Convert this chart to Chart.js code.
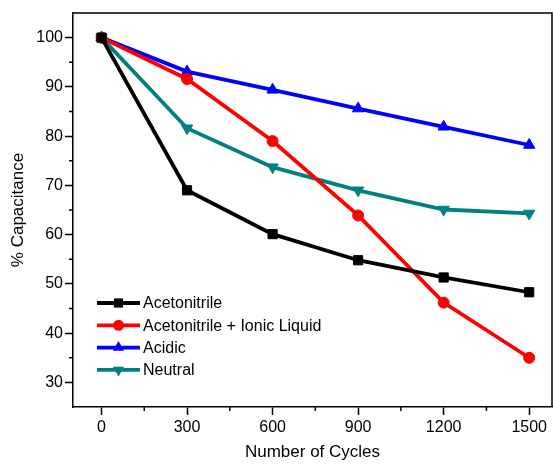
<!DOCTYPE html>
<html>
<head>
<meta charset="utf-8">
<script src="https://cdn.jsdelivr.net/npm/chart.js@4.4.0/dist/chart.umd.min.js"></script>
<style>
html, body { margin: 0; padding: 0; background: #fff; }
#wrap { width: 553px; height: 464px; }
</style>
</head>
<body>
<div id="wrap"><canvas id="c" width="553" height="464"></canvas></div>
<script>
// capacitance retention vs cycles
const cycles = [0, 300, 600, 900, 1200, 1500];
const acetonitrile = [100, 69.0, 60.1, 54.8, 51.3, 48.3];
const acetonitrileIL = [100, 91.6, 79.0, 63.9, 46.2, 35.0];
const acidic = [100, 93.1, 89.4, 85.6, 81.9, 78.2];
const neutral = [100, 81.6, 73.7, 69.0, 65.1, 64.3];
const seriesNames = ['Acetonitrile', 'Acetonitrile + Ionic Liquid', 'Acidic', 'Neutral'];

const xTicks = [0, 300, 600, 900, 1200, 1500];
const xMinor = [150, 450, 750, 1050, 1350];
const yTicks = [30, 40, 50, 60, 70, 80, 90, 100];
const yMinor = [35, 45, 55, 65, 75, 85, 95];

const FONT = "'Liberation Sans', Arial, sans-serif";

const pts = ys => cycles.map((x, i) => ({ x: x, y: ys[i] }));

const mk = (label, ys, color, style, radius, rotation) => ({
    label: label,
    data: pts(ys),
    borderColor: color,
    backgroundColor: color,
    borderWidth: 3.8,
    pointStyle: style,
    pointRadius: radius,
    pointRotation: rotation,
    pointBorderWidth: 1,
    pointBorderColor: color,
    pointBackgroundColor: color,
    tension: 0
})

function drawMarker(ctx, style, rot, x, y, r) {
    ctx.beginPath()
    if (style === 'rect') {
        const s = Math.SQRT1_2 * r
        ctx.rect(x - s, y - s, 2 * s, 2 * s)
    } else if (style === 'circle') {
        ctx.arc(x, y, r, 0, Math.PI * 2)
    } else {
        const a0 = rot ? Math.PI / 2 : -Math.PI / 2
        for (let k = 0; k < 3; k++) {
            const a = a0 + k * 2 * Math.PI / 3
            const px = x + Math.cos(a) * r
            const py = y + Math.sin(a) * r
            k ? ctx.lineTo(px, py) : ctx.moveTo(px, py)
        }
        ctx.closePath()
    }
    ctx.fill()
}

// box + minor ticks
const framePlugin = {
    id: 'frame',
    afterDraw(chart) {
        const { ctx, chartArea: a, scales } = chart
        ctx.save()
        ctx.strokeStyle = '#000'
        ctx.lineWidth = 1.5
        ctx.beginPath()
        ctx.moveTo(a.left, a.top)
        ctx.lineTo(a.right, a.top)
        ctx.lineTo(a.right, a.bottom)
        ctx.stroke()
        xMinor.forEach(v => {
            const px = scales.x.getPixelForValue(v)
            ctx.beginPath()
            ctx.moveTo(px, a.bottom)
            ctx.lineTo(px, a.bottom + 4)
            ctx.stroke()
        })
        yMinor.forEach(v => {
            const py = scales.y.getPixelForValue(v)
            ctx.beginPath()
            ctx.moveTo(a.left, py)
            ctx.lineTo(a.left - 4, py)
            ctx.stroke()
        })
        ctx.restore()
    }
}

// legend inside plot, lower left
const legendPlugin = {
    id: 'innerLegend',
    afterDatasetsDraw(chart) {
        const { ctx, chartArea: a } = chart
        const x0 = a.left + 24, x1 = a.left + 67
        let y = a.top + 290
        ctx.save()
        chart.data.datasets.forEach(ds => {
            ctx.strokeStyle = ds.borderColor
            ctx.fillStyle = ds.borderColor
            ctx.lineWidth = ds.borderWidth
            ctx.beginPath()
            ctx.moveTo(x0, y)
            ctx.lineTo(x1, y)
            ctx.stroke()
            drawMarker(ctx, ds.pointStyle, ds.pointRotation, (x0 + x1) / 2, y, ds.pointRadius)
            ctx.fillStyle = '#000'
            ctx.font = '16px ' + FONT
            ctx.textBaseline = 'middle'
            ctx.textAlign = 'left'
            ctx.fillText(ds.label, x1 + 3, y + 1)
            y += 22.3
        })
        ctx.restore()
    }
}

new Chart(document.getElementById('c'), {
    type: 'line',
    data: {
        datasets: [
            mk(seriesNames[0], acetonitrile, '#000000', 'rect', 6.5, 0),
            mk(seriesNames[1], acetonitrileIL, '#ff0000', 'circle', 5.5, 0),
            mk(seriesNames[2], acidic, '#0000ff', 'triangle', 6.5, 0),
            mk(seriesNames[3], neutral, '#008080', 'triangle', 6.5, 180)
        ]
    },
    options: {
        responsive: false,
        animation: false,
        devicePixelRatio: 1,
        layout: { autoPadding: false, padding: { left: 0, top: 13, right: 1, bottom: 0 } },
        plugins: {
            legend: { display: false },
            tooltip: { enabled: false }
        },
        scales: {
            x: {
                type: 'linear',
                min: -100,
                max: 1580,
                afterBuildTicks: s => { s.ticks = xTicks.map(v => ({ value: v })) },
                afterFit: s => { s.height = 57; s.paddingLeft = 0; s.paddingRight = 0 },
                ticks: { color: '#000', font: { family: FONT, size: 16 }, padding: 3, maxRotation: 0, callback: v => String(v) },
                grid: { drawOnChartArea: false, drawTicks: true, tickLength: 8, tickWidth: 1.5, tickColor: '#000' },
                border: { display: true, color: '#000', width: 1.5 },
                title: { display: true, text: 'Number of Cycles', color: '#000', font: { family: FONT, size: 17 }, padding: { top: 4, bottom: 1 } }
            },
            y: {
                min: 25,
                max: 105,
                afterBuildTicks: s => { s.ticks = yTicks.map(v => ({ value: v })) },
                afterFit: s => { s.width = 73; s.paddingTop = 0; s.paddingBottom = 0 },
                ticks: { color: '#000', font: { family: FONT, size: 16 }, padding: 2, callback: v => String(v) },
                grid: { drawOnChartArea: false, drawTicks: true, tickLength: 8, tickWidth: 1.5, tickColor: '#000' },
                border: { display: true, color: '#000', width: 1.5 },
                title: { display: true, text: '% Capacitance', color: '#000', font: { family: FONT, size: 17 }, padding: { top: 8, bottom: 0 } }
            }
        }
    },
    plugins: [framePlugin, legendPlugin]
})
</script>
</body>
</html>
